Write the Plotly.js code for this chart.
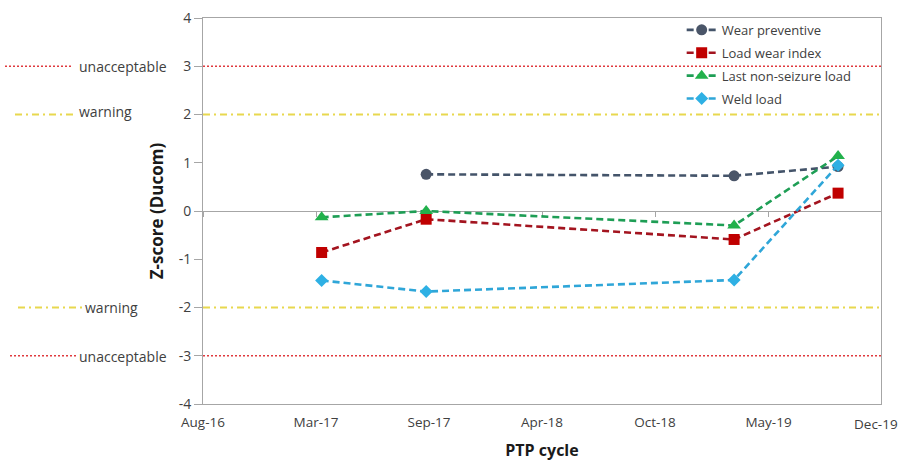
<!DOCTYPE html>
<html>
<head>
<meta charset="utf-8">
<script src="https://cdn.plot.ly/plotly-3.0.1.min.js"></script>
<style>html,body{margin:0;padding:0;background:#fff;}#chart{width:900px;height:461px;}</style>
</head>
<body>
<div id="chart"></div>
<script>
// ---- data ----
const cycleDates = ['2017-03-18', '2017-09-19', '2019-03-18', '2019-09-18'];
const wearPreventive = [null, 0.76, 0.73, 0.92];
const loadWearIndex = [-0.86, -0.17, -0.59, 0.37];
const lastNonSeizureLoad = [-0.13, 0.0, -0.30, 1.14];
const weldLoad = [-1.44, -1.67, -1.43, 0.95];

const xTickDates = ['2016-08-20', '2017-03-08', '2017-09-24', '2018-04-12', '2018-10-29', '2019-05-18', '2019-12-03'];
const xTickLabels = ['Aug-16', 'Mar-17', 'Sep-17', 'Apr-18', 'Oct-18', 'May-19', 'Dec-19'];
const yTickVals = [-4, -3, -2, -1, 0, 1, 2, 3, 4];
const yTickLabels = ['-4', '-3', '-2', '-1', '0', '1', '2', '3', '4'];

const limitValues = [3, 2, -2, -3];
const limitLabels = ['unacceptable', 'warning', 'warning', 'unacceptable'];
const limitKinds = ['red', 'yellow', 'yellow', 'red'];

// ---- styling ----
const plotLeft = 203, plotWidth = 678;
const toPaper = px => (px - plotLeft) / plotWidth;
const limitStyle = {
  red: {color: '#E03A3E', width: 1.6, dash: '2px,2px'},
  yellow: {color: '#E8D84E', width: 2, dash: '7px,4px,2px,4px'}
};
// margin segments [x0, x1, label start] in px, and label vertical shift
const marginSeg = [[5, 72, 77], [15, 77, 77], [18, 82, 83], [10, 76, 77]];
const labelShift = [0, 3, 0, -1];

const xRange = [xTickDates[0], xTickDates[xTickDates.length - 1]];
const lastIdx = xTickLabels.length - 1;
// the last label is drawn as an annotation, nudged inside the page as in the reference
const axisTickText = xTickLabels.map((t, i) => (i === lastIdx ? '' : t));

const series = [
  {name: 'Wear preventive', y: wearPreventive, line: '#44546A', marker: '#4A5568', symbol: 'circle', size: 11},
  {name: 'Load wear index', y: loadWearIndex, line: '#A3141F', marker: '#C00000', symbol: 'square', size: 11},
  {name: 'Last non-seizure load', y: lastNonSeizureLoad, line: '#1E9E55', marker: '#22B14C', symbol: 'triangle-up', size: 12},
  {name: 'Weld load', y: weldLoad, line: '#2FA6D8', marker: '#2EB0E4', symbol: 'diamond', size: 10}
];

const traces = [];
limitValues.forEach((v, i) => {
  const st = limitStyle[limitKinds[i]];
  traces.push({
    x: xRange, y: [v, v], xaxis: 'x2', yaxis: 'y', mode: 'lines',
    line: {color: st.color, width: st.width, dash: st.dash},
    showlegend: false, hoverinfo: 'skip'
  });
});
series.forEach((s, i) => {
  traces.push({
    x: cycleDates, y: s.y, name: s.name, mode: 'lines+markers', legendgroup: 'g' + i,
    line: {color: s.line, width: 2.6, dash: '7px,4px'},
    marker: {color: s.marker, symbol: s.symbol, size: s.size, line: {width: 0}},
    connectgaps: false
  });
});

const shapes = limitValues.map((v, i) => {
  const st = limitStyle[limitKinds[i]];
  return {
    type: 'line', xref: 'paper', yref: 'y',
    x0: toPaper(marginSeg[i][0]), x1: toPaper(marginSeg[i][1]), y0: v, y1: v,
    line: {color: st.color, width: st.width, dash: st.dash}
  };
});

const annotations = limitValues.map((v, i) => ({
  xref: 'paper', yref: 'y', x: toPaper(marginSeg[i][2]), y: v, yshift: labelShift[i],
  xanchor: 'left', yanchor: 'middle', showarrow: false,
  text: limitLabels[i], font: {family: 'Open Sans', size: 14, color: '#404040'}
}));
annotations.push({
  xref: 'x', yref: 'paper', x: xTickDates[lastIdx], y: 0, xanchor: 'center', yanchor: 'top',
  xshift: -5, yshift: -9, showarrow: false,
  text: xTickLabels[lastIdx], font: {family: 'Open Sans', size: 13.5, color: '#404040'}
});

const axisColor = '#a6a6a6';
const layout = {
  width: 900, height: 461,
  margin: {l: plotLeft, r: 900 - plotLeft - plotWidth, t: 18, b: 57},
  paper_bgcolor: '#fff', plot_bgcolor: '#fff',
  font: {family: 'Open Sans', color: '#404040'},
  showlegend: true,
  legend: {
    x: 0.706, y: 1.008, xanchor: 'left', yanchor: 'top',
    bgcolor: 'rgba(0,0,0,0)', borderwidth: 0,
    font: {family: 'Open Sans', size: 13, color: '#404040'},
    traceorder: 'grouped', tracegroupgap: 3, itemwidth: 30
  },
  xaxis: {
    type: 'date', range: xRange, tickvals: xTickDates, ticktext: axisTickText,
    showline: true, linecolor: axisColor, linewidth: 1, mirror: true,
    ticks: '', showgrid: false, zeroline: false,
    tickfont: {family: 'Open Sans', size: 13.5, color: '#404040'},
    ticklabelstandoff: 6,
    title: {text: 'PTP cycle', font: {family: 'Open Sans', size: 16, color: '#1a1a1a', weight: 'bold'}, standoff: 14}
  },
  xaxis2: {
    type: 'date', range: xRange, tickvals: xTickDates, overlaying: 'x', anchor: 'free', position: 0.5,
    showticklabels: false, ticks: 'outside', ticklen: 5, tickcolor: axisColor,
    showline: true, linecolor: axisColor, linewidth: 1, showgrid: false, zeroline: false,
    layer: 'below traces'
  },
  yaxis: {
    range: [-4, 4], tickvals: yTickVals, ticktext: yTickLabels,
    ticks: 'outside', ticklen: 8, tickcolor: axisColor,
    showline: true, linecolor: axisColor, linewidth: 1, mirror: true,
    showgrid: false, zeroline: false,
    tickfont: {family: 'Open Sans', size: 14, color: '#404040'},
    title: {text: 'Z-score (Ducom)', font: {family: 'Open Sans', size: 17, color: '#1a1a1a', weight: 'bold'}, standoff: 10}
  },
  shapes: shapes,
  annotations: annotations
};

Plotly.newPlot('chart', traces, layout, {displayModeBar: false, staticPlot: true});
</script>
</body>
</html>
